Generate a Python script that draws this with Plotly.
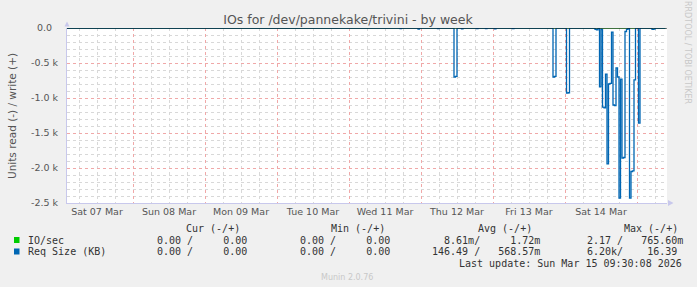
import plotly.graph_objects as go

# ---------------- data ----------------
req_times = [
    "2026-03-07 02:00", "2026-03-11 17:00", "2026-03-11 17:30", "2026-03-11 23:00", "2026-03-11 23:30",
    "2026-03-12 05:30", "2026-03-12 06:00", "2026-03-12 11:00", "2026-03-12 11:30", "2026-03-12 12:00",
    "2026-03-12 13:30", "2026-03-12 14:00", "2026-03-12 18:30", "2026-03-12 19:00", "2026-03-12 21:30",
    "2026-03-12 22:00", "2026-03-13 00:30", "2026-03-13 01:00", "2026-03-13 06:30", "2026-03-13 07:00",
    "2026-03-13 20:00", "2026-03-13 20:30", "2026-03-13 21:00", "2026-03-14 00:30", "2026-03-14 01:00",
    "2026-03-14 01:30", "2026-03-14 10:00", "2026-03-14 10:30", "2026-03-14 11:00", "2026-03-14 11:30",
    "2026-03-14 12:00", "2026-03-14 12:30", "2026-03-14 13:00", "2026-03-14 13:30", "2026-03-14 14:00",
    "2026-03-14 14:30", "2026-03-14 15:00", "2026-03-14 15:30", "2026-03-14 16:00", "2026-03-14 16:30",
    "2026-03-14 17:00", "2026-03-14 17:30", "2026-03-14 18:00", "2026-03-14 18:30", "2026-03-14 19:00",
    "2026-03-14 19:30", "2026-03-14 20:00", "2026-03-14 20:30", "2026-03-14 21:00", "2026-03-14 21:30",
    "2026-03-14 22:00", "2026-03-14 22:30", "2026-03-14 23:00", "2026-03-14 23:30", "2026-03-15 00:00",
    "2026-03-15 00:30", "2026-03-15 01:00", "2026-03-15 05:00", "2026-03-15 05:30", "2026-03-15 06:00",
    "2026-03-15 09:30",
]
req_read = [
    0, -10, 0, -15, 0,
    -10, 0, -700, -690, 0,
    -12, 0, -10, 0, -8,
    0, -12, 0, -10, 0,
    -700, -690, 0, -930, -925,
    0, -20, -25, 0, -840,
    -20, -1130, -1140, -660, -1940,
    -800, -790, -60, -1100, -1110,
    -570, -700, -2430, -730, -1860,
    -1850, -50, -20, 0, -2430,
    -2050, -2040, -740, 0, 0,
    -1360, 0, -20, -15, 0,
    0,
]
io_times = ["2026-03-07 02:00", "2026-03-15 09:30"]
io_read = [0, 0]

y_tickvals = [0, -500, -1000, -1500, -2000, -2500]
y_ticktext = ["0.0\u00a0\u00a0", "-0.5 k", "-1.0 k", "-1.5 k", "-2.0 k", "-2.5 k"]

legend_names = ["IO/sec", "Req Size (KB)"]
legend_colors = ["#00CC00", "#0066B3"]
cur_col = ["0.00 /     0.00", "0.00 /     0.00"]
min_col = ["0.00 /     0.00", "0.00 /     0.00"]
avg_col = ["  8.61m/     1.72m", "146.49 /   568.57m"]
max_col = ["2.17 /   765.60m", "6.20k/    16.39"]
headers = ["Cur (-/+)", "Min (-/+)", "Avg (-/+)", "Max (-/+)"]

# ---------------- geometry helpers (pixel -> paper) ----------------
L, R, T, B = 67, 667, 28, 203
W, H = R - L, B - T
def xp(px):
    return (px - L) / W
def yp(py):
    return (B - py) / H
def nb(s):
    return s.replace(" ", "\u00a0")

fig = go.Figure()
fig.add_trace(go.Scatter(x=io_times, y=io_read, mode="lines", line=dict(color=legend_colors[0], width=1, shape="hv"),
                         showlegend=False, hoverinfo="skip"))
fig.add_trace(go.Scatter(x=req_times, y=req_read, mode="lines", line=dict(color=legend_colors[1], width=1.3, shape="hv"),
                         showlegend=False, hoverinfo="skip"))

tickfont = dict(family="DejaVu Sans", size=9.5, color="#555555")
fig.update_layout(
    width=697, height=287,
    margin=dict(l=L, r=697 - R, t=T, b=287 - B, pad=0),
    paper_bgcolor="#F0F0F0", plot_bgcolor="#FFFFFF",
    title=dict(text="IOs for /dev/pannekake/trivini - by week", x=348 / 697, xanchor="center",
               y=1 - 20 / 287, yanchor="middle", font=dict(family="DejaVu Sans", size=12.5, color="#555555")),
    xaxis=dict(type="date", range=["2026-03-07 02:00", "2026-03-15 10:00"],
               tick0="2026-03-08", dtick=86400000, tickformat="%a %d %b", ticklabelmode="period",
               showgrid=True, gridcolor="#F0A8A8", griddash="dot", gridwidth=1,
               minor=dict(tick0="2026-03-08", dtick=6 * 3600000, showgrid=True, gridcolor="#D8D8D8", griddash="dot"),
               showline=True, linecolor="#C8C8EC", linewidth=1, ticks="", tickfont=tickfont,
               zeroline=False, fixedrange=True),
    yaxis=dict(range=[-2500, 0], tickvals=y_tickvals, ticktext=y_ticktext,
               showgrid=True, gridcolor="#F0A8A8", griddash="dot", gridwidth=1,
               minor=dict(dtick=100, tick0=0, showgrid=True, gridcolor="#D8D8D8", griddash="dot"),
               showline=True, linecolor="#C8C8EC", linewidth=1, ticks="", tickfont=tickfont,
               ticklabelstandoff=6, zeroline=False, fixedrange=True),
)

shapes = []
# zero line on top
shapes.append(dict(type="line", xref="paper", yref="y", x0=0, x1=1, y0=0, y1=0,
                   line=dict(color="#000000", width=1), layer="above"))
# axis arrows
shapes.append(dict(type="path", xref="paper", yref="paper",
                   path=f"M {xp(64.5)} {yp(26.5)} L {xp(69.5)} {yp(26.5)} L {xp(67)} {yp(21.5)} Z",
                   fillcolor="#C8C8EC", line=dict(width=0)))
shapes.append(dict(type="path", xref="paper", yref="paper",
                   path=f"M {xp(668)} {yp(200)} L {xp(668)} {yp(206)} L {xp(673.5)} {yp(203)} Z",
                   fillcolor="#C8C8EC", line=dict(width=0)))
# legend squares
row_y = [240, 251.5]
for c, ry in zip(legend_colors, row_y):
    shapes.append(dict(type="rect", xref="paper", yref="paper", x0=xp(14), x1=xp(19.5),
                       y0=yp(ry + 3), y1=yp(ry - 3), fillcolor=c, line=dict(width=0)))
fig.update_layout(shapes=shapes)

mono = dict(family="DejaVu Sans Mono", size=10, color="#333333")
ann = []
def add(text, px, py, anchor="left", font=mono, **kw):
    ann.append(dict(text=nb(text), x=xp(px), y=yp(py), xref="paper", yref="paper",
                    xanchor=anchor, yanchor="middle", showarrow=False, font=font, borderpad=0, **kw))

header_x = [185, 330, 477, 623]
for h, hx in zip(headers, header_x):
    add(h, hx, 228)
for i, ry in enumerate(row_y):
    add(legend_names[i], 26.5, ry)
    add(cur_col[i], 156, ry)
    add(min_col[i], 299, ry)
    add(avg_col[i], 431, ry)
    add(max_col[i], 586, ry)
add("Last update: Sun Mar 15 09:30:08 2026", 683, 263, anchor="right")
add("Munin 2.0.76", 347, 277, anchor="center", font=dict(family="DejaVu Sans", size=8, color="#C8C8C8"))
add("RRDTOOL / TOBI OETIKER", 688, 52, anchor="center", font=dict(family="DejaVu Sans", size=8, color="#C8C8C8"),
    textangle=90)
add("Units read (-) / write (+)", 12, 116, anchor="center", font=dict(family="DejaVu Sans", size=10.5, color="#555555"),
    textangle=-90)
fig.update_layout(annotations=ann)

fig.write_html("out.html", config=dict(displayModeBar=False))
